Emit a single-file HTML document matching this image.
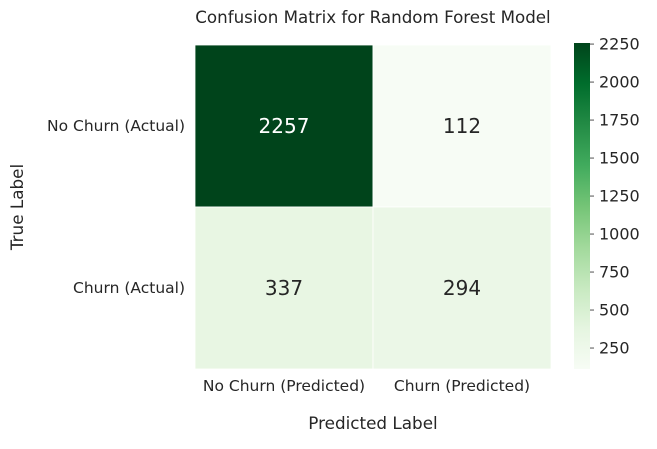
<!DOCTYPE html>
<html><head><meta charset="utf-8"><style>
body{margin:0;background:#fff;font-family:"Liberation Sans","DejaVu Sans",sans-serif}
svg text{font-family:"DejaVu Sans","Liberation Sans",sans-serif;fill:#262626}
</style></head><body>
<svg id="c" width="657" height="444" viewBox="0 0 657 444">
<text x="373" y="23" text-anchor="middle" font-size="16.7">Confusion Matrix for Random Forest Model</text>
<text x="373" y="429" text-anchor="middle" font-size="16.8">Predicted Label</text>
<text transform="translate(23,207) rotate(-90)" text-anchor="middle" font-size="16.8">True Label</text>
<defs><linearGradient id="g" x1="0" y1="1" x2="0" y2="0"></linearGradient></defs>
</svg>
<script>
const xLabels=["No Churn (Predicted)","Churn (Predicted)"];
const yLabels=["No Churn (Actual)","Churn (Actual)"];
const values=[[2257,112],[337,294]];
const cbTicks=[250,500,750,1000,1250,1500,1750,2000,2250];
const greens=["#f7fcf5","#e5f5e0","#c7e9c0","#a1d99b","#74c476","#41ab5d","#238b45","#006d2c","#00441b"];
const svg=document.getElementById('c');
const NS='http://www.w3.org/2000/svg';
function mk(t,a,p){const e=document.createElementNS(NS,t);for(const k in a)e.setAttribute(k,a[k]);(p||svg).appendChild(e);return e;}
const flat=values.flat();const vmin=Math.min(...flat),vmax=Math.max(...flat);
function hex(h){return [1,3,5].map(i=>parseInt(h.substr(i,2),16));}
function color(v){let t=(v-vmin)/(vmax-vmin);t=Math.max(0,Math.min(1,t))*(greens.length-1);const i=Math.min(Math.floor(t),greens.length-2),f=t-i;const a=hex(greens[i]),b=hex(greens[i+1]);return 'rgb('+a.map((x,k)=>Math.round(x+(b[k]-x)*f)).join(',')+')';}
const X0=195,X1=551,Y0=45,Y1=369;
const cw=(X1-X0)/xLabels.length,ch=(Y1-Y0)/yLabels.length;
values.forEach((row,r)=>row.forEach((v,c)=>{
  const rect=mk('rect',{x:X0+c*cw,y:Y0+r*ch,width:cw,height:ch,fill:color(v),stroke:'#fff','stroke-width':0.8});
  
  
  const tx=mk('text',{x:X0+(c+.5)*cw,y:Y0+(r+.5)*ch+7,'text-anchor':'middle','font-size':20});
  tx.style.fill=(v-vmin)/(vmax-vmin)>0.5?'#fff':'#262626';
  tx.textContent=v;
  
  
}));
xLabels.forEach((l,i)=>{const t=mk('text',{x:X0+(i+.5)*cw,y:391,'text-anchor':'middle','font-size':15.5});t.textContent=l;

});
yLabels.forEach((l,i)=>{const t=mk('text',{x:185,y:Y0+(i+.5)*ch+5,'text-anchor':'end','font-size':15.5});t.textContent=l;

});
const CX=574,CW=16,CY0=43,CY1=369;
const g=document.getElementById('g');
greens.forEach((c,i)=>mk('stop',{offset:(i/(greens.length-1)),'stop-color':c},g));
const cb=mk('rect',{x:CX,y:CY0,width:CW,height:CY1-CY0,fill:'url(#g)'});


function cy(v){return CY1-(v-vmin)/(vmax-vmin)*(CY1-CY0);}
cbTicks.forEach(v=>{const y=cy(v);mk('line',{x1:CX+CW,x2:CX+CW+4,y1:y,y2:y,stroke:'#262626','stroke-width':0.8});
const t=mk('text',{x:CX+CW+9,y:y+5.5,'font-size':16});t.textContent=v;

});
</script>
</body></html>
